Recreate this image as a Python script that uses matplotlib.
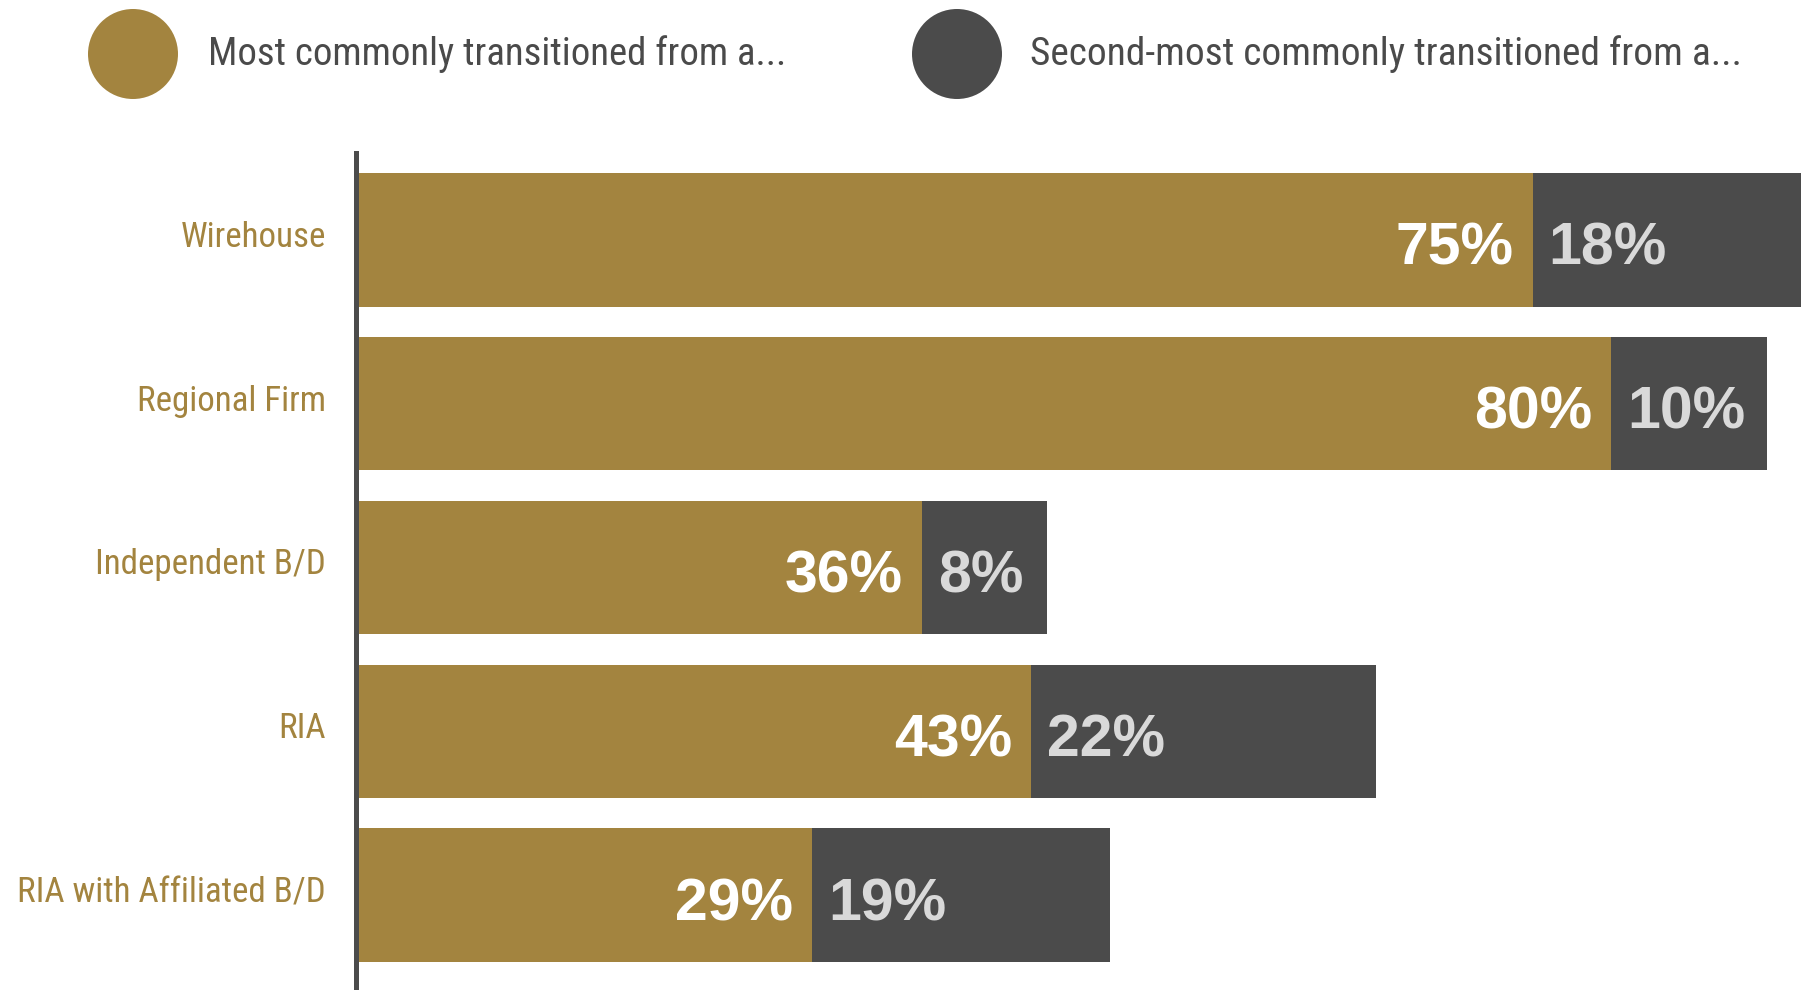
import matplotlib
matplotlib.use("Agg")
import matplotlib.pyplot as plt
from matplotlib.patches import Ellipse
from matplotlib import font_manager
from matplotlib.font_manager import FontProperties

categories = ["Wirehouse", "Regional Firm", "Independent B/D", "RIA", "RIA with Affiliated B/D"]
most_common = [75, 80, 36, 43, 29]
second_most = [18, 10, 8, 22, 19]
series_names = ["Most commonly transitioned from a...", "Second-most commonly transitioned from a..."]

GOLD = "#a3843f"
DARK = "#4b4b4b"
LIGHT = "#d9d9d9"
TEXT_GREY = "#4a4a4a"


def pick_label_font():
    """Prefer a narrow/condensed regular face; fall back to Liberation Sans."""
    fonts = font_manager.fontManager.ttflist
    preferred = ["roboto condensed", "liberation sans narrow", "dejavu sans condensed",
                 "open sans condensed", "noto sans condensed"]
    def is_regular(f):
        return f.style == "normal" and f.weight in (400, "normal", "regular", "book")
    for pref in preferred:
        for f in fonts:
            if f.name.lower() == pref and is_regular(f):
                return FontProperties(fname=f.fname)
    for f in fonts:
        n = f.name.lower()
        if (("narrow" in n or "condensed" in n or str(f.stretch) in ("condensed", "semi-condensed"))
                and is_regular(f) and "mono" not in n and "serif" not in n.replace("sans", "")):
            return FontProperties(fname=f.fname)
    return FontProperties(family="Liberation Sans")


available = {f.name for f in font_manager.fontManager.ttflist}
bold_family = "Liberation Sans" if "Liberation Sans" in available else "DejaVu Sans"
label_font = pick_label_font()

W, H = 1801, 990
fig = plt.figure(figsize=(W / 100, H / 100), dpi=100)
fig.patch.set_facecolor("white")
renderer = fig.canvas.get_renderer()


def fit_size(text, fp, target_px, start=24.0):
    t = fig.text(0, 0, text, fontproperties=fp, fontsize=start)
    w = t.get_window_extent(renderer).width
    t.remove()
    return start * target_px / w


cat_size = fit_size("RIA with Affiliated B/D", label_font, 310)
leg_sizes = [fit_size(series_names[0], label_font, 580),
             fit_size(series_names[1], label_font, 712)]

left, top, bottom = 358, 153, 990
px_per_pct = 15.66
ax = fig.add_axes([left / W, (H - bottom) / H, (W - left) / W, (bottom - top) / H])

y = list(range(len(categories)))
bar_h = 0.815
ax.barh(y, most_common, height=bar_h, color=GOLD, linewidth=0)
ax.barh(y, second_most, left=most_common, height=bar_h, color=DARK, linewidth=0)

ax.set_xlim(0, (W - left) / px_per_pct)
ax.set_ylim(4.58, -0.531)

for yi, a, b in zip(y, most_common, second_most):
    ax.annotate(f"{a}%", (a, yi), xytext=(-19, -25), textcoords="offset pixels",
                ha="right", va="baseline", color="white", fontsize=42.5,
                fontweight="bold", family=bold_family)
    ax.annotate(f"{b}%", (a, yi), xytext=(16, -25), textcoords="offset pixels",
                ha="left", va="baseline", color=LIGHT, fontsize=42.5,
                fontweight="bold", family=bold_family)

# Category names to the left of the axis line
ax.set_yticks(y)
ax.set_yticklabels([])
ax.tick_params(axis="y", length=0)
for yi, name in zip(y, categories):
    ax.annotate(name, (0, yi), xytext=(-32, -7), textcoords="offset pixels",
                ha="right", va="baseline", color=GOLD, fontproperties=label_font,
                fontsize=cat_size, annotation_clip=False)

ax.set_xticks([])
for side in ("top", "right", "bottom"):
    ax.spines[side].set_visible(False)
ax.spines["left"].set_color(DARK)
ax.spines["left"].set_linewidth(3.6)
ax.spines["left"].set_position(("outward", 1.8))

# Legend: filled circles with their series names
legend_items = [(133, GOLD, 208), (957, DARK, 1030)]
for (cx, col, tx), label, size in zip(legend_items, series_names, leg_sizes):
    fig.add_artist(Ellipse((cx / W, 1 - 54 / H), 90 / W, 90 / H,
                           transform=fig.transFigure, color=col, linewidth=0))
    fig.text(tx / W, 1 - 65 / H, label, ha="left", va="baseline",
             color=TEXT_GREY, fontproperties=label_font, fontsize=size)

fig.savefig("out.png", dpi=100, facecolor="white")
